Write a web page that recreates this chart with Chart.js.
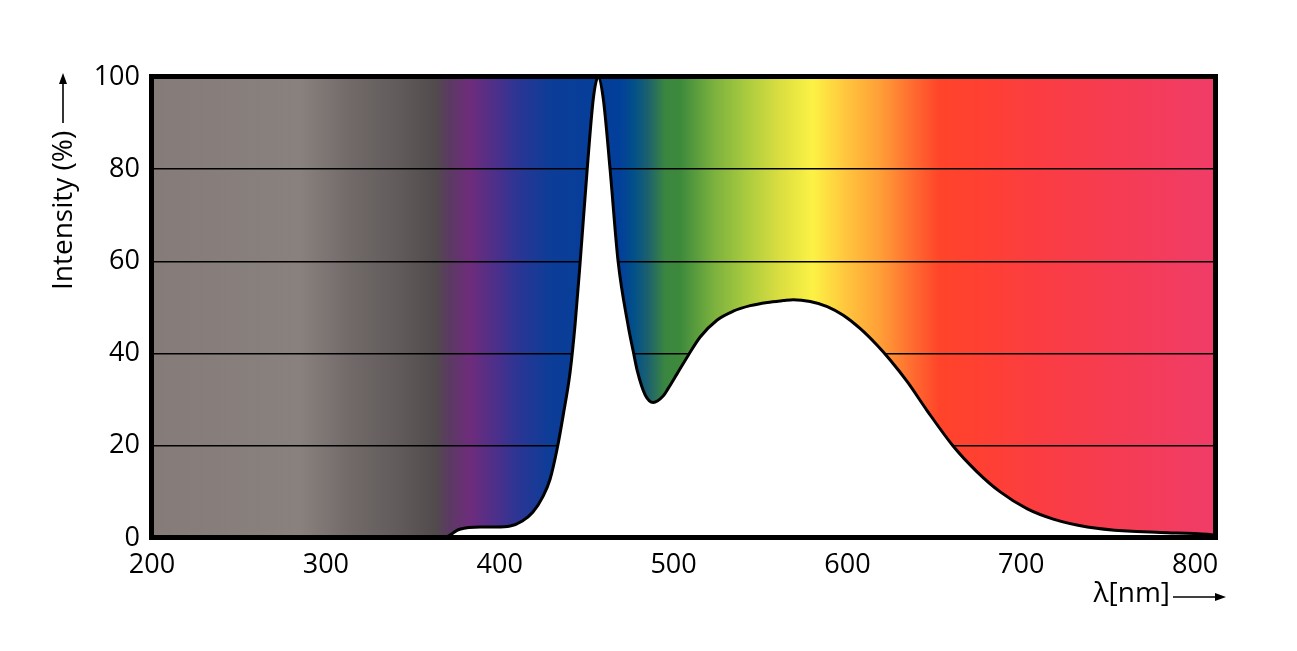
<!DOCTYPE html>
<html>
<head>
<meta charset="utf-8">
<title>LED spectrum</title>
<script src="https://cdn.jsdelivr.net/npm/chart.js@4.4.1/dist/chart.umd.min.js"></script>
<style>
  html, body { margin: 0; padding: 0; background: #fff; }
  #wrap { width: 1297px; height: 651px; position: relative; }
</style>
</head>
<body>
<div id="wrap"><canvas id="spectrumChart"></canvas></div>
<script>
// wavelength (nm) and relative intensity (%)
const wavelengths = [200, 300, 360, 367, 377, 389, 398, 406, 413, 419, 425, 429, 433, 436.5, 440.5,
  443.4, 446.3, 450.3, 453.9, 456.6, 459.5, 463.5, 468.1, 473.9, 476.8, 479.1, 483.7, 488.3, 494,
  497, 502, 508.4, 515.3, 525.1, 534.3, 544.1, 553.9, 563.1, 568.8, 578.6, 588.4, 597.6, 607.4,
  617.1, 624.6, 634.4, 645.9, 660.9, 674.7, 687.9, 703.5, 718.4, 738, 761, 780, 807, 812];
const intensity = [0, 0, 0, 0, 1.9, 2.4, 2.4, 2.6, 3.7, 5.6, 9.1, 12.8, 19.3, 26.6, 36,
  46.5, 60, 79.9, 95.5, 100, 95.5, 79.9, 60, 46, 40.5, 36.3, 31.0, 29.4, 30.8,
  32.5, 35.6, 39.6, 43.6, 47.3, 49.2, 50.4, 51.1, 51.5, 51.7, 51.3, 50.2, 48.3, 45.4,
  41.8, 38.6, 33.9, 27.6, 19.9, 14.3, 10.0, 6.3, 4.1, 2.4, 1.5, 1.2, 0.8, 0.6];
const xTicks = [200, 300, 400, 500, 600, 700, 800];
const yTicks = [0, 20, 40, 60, 80, 100];

// background spectrum colours, keyed by wavelength
const spectrumStops = [
  [200, '#857c7a'], [285, '#89817d'], [314, '#716a69'], [343, '#615a5a'], [363, '#524b4d'],
  [371, '#5b3a62'], [383, '#6e2c7c'], [400, '#47308c'], [410, '#2c3594'], [429, '#0c3d98'],
  [469, '#023f9a'], [477, '#02508a'], [485, '#1b6070'], [495, '#3a8640'], [504, '#3d8a3c'],
  [523, '#7ab13e'], [542, '#aacb3e'], [561, '#dade40'], [580, '#fcf245'], [600, '#ffc43d'],
  [619, '#ff9e37'], [638, '#ff6a30'], [653, '#ff442a'], [676, '#ff4032'], [715, '#fa3c44'],
  [753, '#f63c52'], [812, '#f03c68']
];

const FONT = "'Open Sans', 'Noto Sans', sans-serif";

const spectrumBackground = {
  id: 'spectrumBackground',
  beforeDraw(chart) {
    const { ctx, chartArea: a, scales: { x } } = chart;
    const g = ctx.createLinearGradient(a.left, 0, a.right, 0);
    const w = a.right - a.left;
    spectrumStops.forEach(([nm, c]) => {
      const t = (x.getPixelForValue(nm) - a.left) / w;
      g.addColorStop(Math.min(1, Math.max(0, t)), c);
    });
    ctx.save();
    ctx.fillStyle = g;
    ctx.fillRect(a.left, a.top, w, a.bottom - a.top);
    ctx.restore();
  }
};

function arrowHead(ctx, tipX, tipY, dx, dy) {
  // small filled triangle pointing along (dx, dy)
  const len = 11, half = 4;
  const bx = tipX - dx * len, by = tipY - dy * len;
  ctx.beginPath();
  ctx.moveTo(tipX, tipY);
  ctx.lineTo(bx - dy * half, by + dx * half);
  ctx.lineTo(bx + dy * half, by - dx * half);
  ctx.closePath();
  ctx.fill();
}

const frameAndTitles = {
  id: 'frameAndTitles',
  afterDatasetsDraw(chart) {
    const { ctx, chartArea: a } = chart;
    ctx.save();
    ctx.strokeStyle = '#000';
    ctx.lineWidth = 5;
    ctx.strokeRect(a.left - 0.5, a.top - 0.5, a.right - a.left, a.bottom - a.top);
    ctx.restore();
  },
  afterDraw(chart) {
    const { ctx, chartArea: a } = chart;
    ctx.save();
    ctx.fillStyle = '#000';
    ctx.strokeStyle = '#000';
    ctx.lineWidth = 1.6;
    ctx.font = '28px ' + FONT;

    // y title, rotated, with arrow pointing up
    ctx.save();
    ctx.translate(a.left - 80, a.bottom - 248);
    ctx.rotate(-Math.PI / 2);
    ctx.textAlign = 'left';
    ctx.textBaseline = 'alphabetic';
    ctx.fillText('Intensity (%)', 0, 0);
    ctx.restore();
    const ax = a.left - 89;
    ctx.beginPath();
    ctx.moveTo(ax, a.top + 46);
    ctx.lineTo(ax, a.top + 2);
    ctx.stroke();
    arrowHead(ctx, ax, a.top - 4, 0, -1);

    // x title with arrow pointing right
    ctx.textAlign = 'right';
    ctx.textBaseline = 'alphabetic';
    ctx.fillText('λ[nm]', a.right - 46, a.bottom + 64);
    const ay = a.bottom + 59;
    ctx.beginPath();
    ctx.moveTo(a.right - 43, ay);
    ctx.lineTo(a.right + 2, ay);
    ctx.stroke();
    arrowHead(ctx, a.right + 10, ay, 1, 0);
    ctx.restore();
  }
};

const ctx = document.getElementById('spectrumChart').getContext('2d');
new Chart(ctx, {
  type: 'line',
  data: {
    datasets: [{
      label: 'Intensity',
      data: wavelengths.map((nm, i) => ({ x: nm, y: intensity[i] })),
      borderColor: '#000',
      borderWidth: 3,
      backgroundColor: '#ffffff',
      fill: 'origin',
      pointRadius: 0,
      cubicInterpolationMode: 'monotone'
    }]
  },
  options: {
    responsive: true,
    maintainAspectRatio: false,
    animation: false,
    layout: { padding: { top: 77, right: 81, left: 0, bottom: 0 } },
    plugins: {
      legend: { display: false },
      tooltip: { enabled: false }
    },
    scales: {
      x: {
        type: 'linear',
        min: 200,
        max: 812,
        afterBuildTicks: (scale) => { scale.ticks = xTicks.map(v => ({ value: v })); },
        afterFit: (scale) => { scale.height = 113; },
        grid: { display: false, drawTicks: false },
        border: { display: false },
        ticks: {
          color: '#000',
          padding: 11,
          maxRotation: 0,
          font: { family: FONT, size: 27 }
        }
      },
      y: {
        min: 0,
        max: 100,
        afterBuildTicks: (scale) => { scale.ticks = yTicks.map(v => ({ value: v })); },
        afterFit: (scale) => { scale.width = 152; },
        grid: {
          color: '#000',
          lineWidth: 1.5,
          drawTicks: false
        },
        border: { display: false },
        ticks: {
          color: '#000',
          padding: 12,
          font: { family: FONT, size: 27 }
        }
      }
    }
  },
  plugins: [spectrumBackground, frameAndTitles]
});
</script>
</body>
</html>
